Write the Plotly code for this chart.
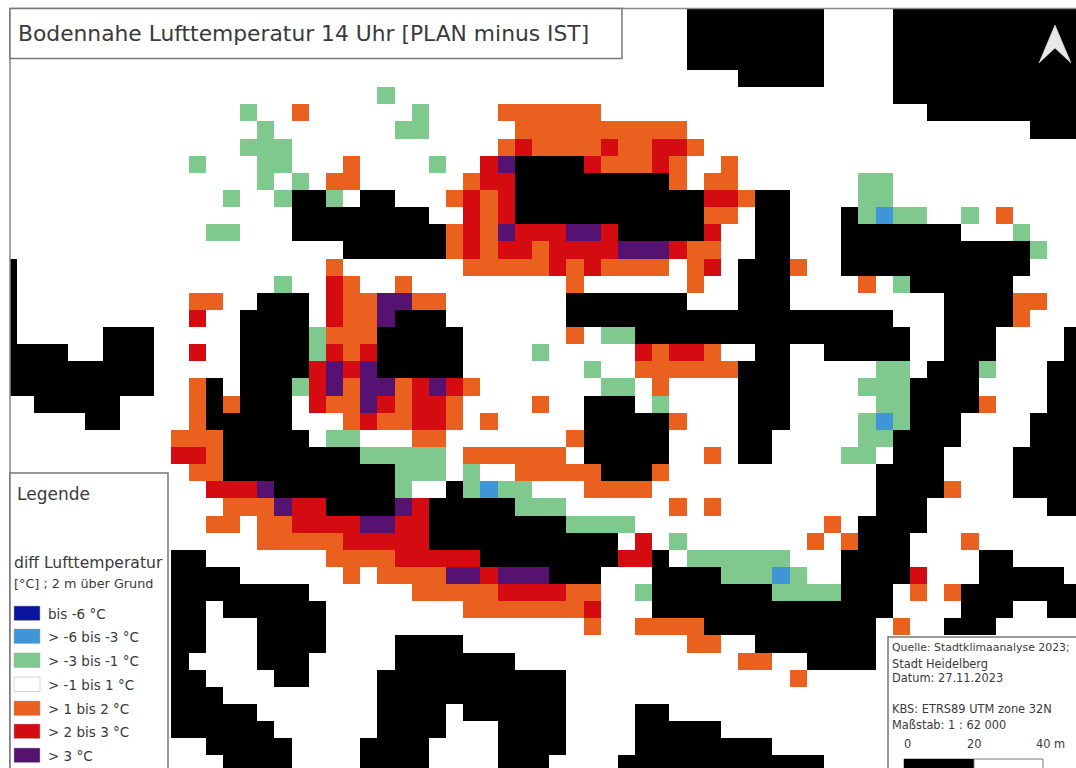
import re
import plotly.graph_objects as go

TITLE = "Bodennahe Lufttemperatur 14 Uhr [PLAN minus IST]"
LEGEND_LABELS = ["bis -6 °C", "> -6 bis -3 °C", "> -3 bis -1 °C", "> -1 bis 1 °C",
                 "> 1 bis 2 °C", "> 2 bis 3 °C", "> 3 °C"]
LEGEND_COLOURS = ["#0b149c", "#3f95d6", "#7fc98e", "#ffffff", "#e9601f", "#d40c12", "#561270"]
INFO_LINES = ["Quelle: Stadtklimaanalyse 2023;", "Stadt Heidelberg", "Datum: 27.11.2023",
              "KBS: ETRS89 UTM zone 32N", "Maßstab: 1 : 62 000"]
SCALE_LABELS = ["0", "20", "40 m"]

# Raster classes per row: letter = class, numbers = column or column range
CLASS_CODES = {"D": 0, "B": 1, "G": 2, "W": 3, "O": 4, "R": 5, "P": 6, "K": 7}
N_COLS = 63
ROW_CELLS = [
    "K40-47 K52-62",
    "K40-47 K52-62",
    "K40-47 K52-62",
    "K40-47 K52-62",
    "K43-47 K52-62",
    "G22 K52-62",
    "G14 O17 G24 O29-34 K54-62",
    "G15 G23-24 O30-39 K60-62",
    "G14-16 O29 R30 O31-34 R35 O36-37 R38-39 O40",
    "G11 G15-16 O20 G25 R28 P29 K30-33 R34 O35-37 R38 O39 O42",
    "G15 G17 O19-20 O27 R28-29 K30-38 O39 O41-42 G50-51",
    "G13 G16 K17-18 G19 K21-22 O26 R27 O28 R29 K30-40 R41-42 O43 K44-45 G50-51",
    "K17-24 R27 O28 R29 K30-40 O41-42 K44-45 K49 G50 B51 G52-53 G56 O58",
    "G12-13 K17-25 O26 R27 O28 P29 R30-32 P33-34 R35 K36-40 R41 K44-45 K49-55 G59",
    "K20-25 O26 R27 O28 R29-30 O31 R32-35 P36-38 R39 O40-41 K44-45 K49-59 G60",
    "K0 O19 O27-31 R32 O33 R34 O35-38 O40 R41 K43-45 O46 K49-59",
    "K0 G16 R19 O20 O23 O33 O40 K43-45 O50 G52 K53-58",
    "K0 O11-12 K15-17 R19 O20-21 P22-23 O24-25 K33-39 K43-45 K55-58 O59-60",
    "K0 R11 K14-17 R19 O20-21 P22 K23-25 K33-51 K55-58 O59",
    "K0 K6-8 K14-17 G18 O19-21 K22-26 O33 G35-36 K37-52 K55-57 K62",
    "K0-3 K6-8 R11 K14-17 G18 R19 O20 R21 K22-26 G31 R37 O38 R39-40 O41 K44-45 K48-52 K55-57 K62",
    "K0-8 K14-17 R18 P19 R20 P21 K22-26 G34 O37-42 K43-45 G51-52 K54-56 G57 K61-62",
    "K0-8 O11 K12 K14-16 G17 R18 P19 O20 P21-22 O23 R24 P25 R26 O27 G35-36 O38 K43-45 G50-52 K53-56 K61-62",
    "K2-6 O11 K12 O13 K14-16 R18 O19-20 P21 R22 O23 R24-25 O26 O31 K34-36 G38 K43-45 G51-52 K53-56 O57 K61-62",
    "K5-6 O11 K12-16 O20 R21 O22-23 R24-25 O26 O28 K34-38 O39 K43-45 G50 B51 G52 K53-55 K60-62",
    "O10-12 K13-17 G19-20 O24-25 O33 K34-38 K43-44 G50-51 K52-55 K60-62",
    "R10-11 O12 K13-20 G21-25 O27-32 K34-38 O41 K43-44 G49-50 K52-54 K59-62",
    "O11-12 K13-22 G23-25 G27 O30-34 K35-37 O38 K51-54 K59-62",
    "R12-14 P15 K16-22 G23 K26 G27 B28 G29-30 O34-37 K51-54 O55 K59-62",
    "O13-15 P16 R17-18 K19-22 P23 R24 K25-29 G30-32 O39 O41 K51-53 K61-62",
    "O12-13 O15-16 R17-20 P21-22 R23-24 K25-32 G33-36 O48 K50-53",
    "O15-19 R20-24 K25-35 R37 G39 O47 O49 K50-52 O56",
    "K10-11 O19-22 R23-27 K28-35 R36-37 K38 G40-45 K49-52 K57-58",
    "K10-13 O20 O22-25 P26-27 R28 P29-31 K32-34 K38-41 G42-44 B45 G46 K49-52 R53 K57-61",
    "K10-17 O24-28 R29-32 O33-34 G37 K38-44 G45-48 K49-51 O53 O55 K56-62",
    "K10-11 K13-18 O27-33 R34 K38-51 K56-58 K61-62",
    "K10-11 K15-18 O34 O37-40 K41-50 O52 K55-57",
    "K10-11 K15-18 K23-26 O40-41 K44-50",
    "K10 K15-17 K23-29 O43-44 K47-50",
    "K10-11 K16-17 K22-32 O46",
    "K10-12 K22-32",
    "K10-14 K22-25 K27-32 K37-38",
    "K10-15 K22-25 K29-32 K37-41",
    "K12-16 K21-24 K29-32 K37-44",
    "K13-16 K21-24 K29-31 K36-47",
]

W, H, L, T = 1076, 768, 10, 9


def px(x):
    return (x - L) / (W - L)


def py(y):
    return (H - y) / (H - T)


z = []
for spec in ROW_CELLS:
    row = [CLASS_CODES["W"]] * N_COLS
    for code, a, b in re.findall(r"([A-Z])(\d+)(?:-(\d+))?", spec):
        for k in range(int(a), int(b or a) + 1):
            row[k] = CLASS_CODES[code]
    z.append(row)

palette = LEGEND_COLOURS + ["#000000"]
n = len(palette)
colorscale = []
for i, c in enumerate(palette):
    colorscale += [[i / n, c], [(i + 1) / n, c]]

fig = go.Figure(go.Heatmap(z=z, x0=0.5, dx=1, y0=0.5, dy=1, zmin=-0.5, zmax=n - 0.5,
                           colorscale=colorscale, showscale=False, hoverinfo="skip"))

shapes = []
annos = []


def rect(x0, y0, x1, y1, fill="#ffffff", line="#777777", width=1.5):
    shapes.append(dict(type="rect", xref="paper", yref="paper", x0=px(x0), x1=px(x1), y0=py(y0), y1=py(y1),
                       fillcolor=fill, line=dict(color=line, width=width)))


def text(x, y, s, size, color="#3a3a3a", anchor="left"):
    annos.append(dict(xref="paper", yref="paper", x=px(x), y=py(y), text=s, showarrow=False,
                      xanchor=anchor, yanchor="middle", font=dict(family="DejaVu Sans", size=size, color=color)))


# map frame
rect(10, 8.5, 1080, 772, fill="rgba(0,0,0,0)", line="#8a8a8a")
# title box
rect(10, 8.5, 622, 58.5)
text(16, 33, TITLE, 21.8)
# north arrow
shapes.append(dict(type="path", xref="paper", yref="paper",
                   path=f"M {px(1055)} {py(25)} L {px(1071)} {py(63)} L {px(1055)} {py(48)} L {px(1039)} {py(63)} Z",
                   fillcolor="#e8e8e8", line=dict(color="#f4f4f4", width=0.5)))
# legend box
rect(10, 473, 168, 772)
text(15, 494, "Legende", 17)
text(12, 563, "diff Lufttemperatur", 15.6)
text(12, 583, "[°C] ; 2 m über Grund", 12.8)
SWATCH_TOPS = [606, 629, 653, 677, 701, 724, 748]
for top, colour, label in zip(SWATCH_TOPS, LEGEND_COLOURS, LEGEND_LABELS):
    rect(14, top, 40, top + 14.5, fill=colour, line="#aaaaaa", width=0.5)
    text(46, top + 7.5, label, 13.5)
# info box
rect(888, 637, 1080, 772)
for y, line, size in zip([647, 663.5, 678, 709, 725], INFO_LINES, [10.9, 11.4, 11.4, 11.4, 11.4]):
    text(890, y, line, size)
for x, label in zip([907, 974.5, 1050], SCALE_LABELS):
    text(x, 744, label, 11.4, anchor="center")
rect(904, 759, 974, 772, fill="#000000", line="#000000", width=0.5)
rect(974, 759, 1043, 772, fill="#ffffff", line="#777777", width=1)

fig.update_layout(
    width=W, height=H, margin=dict(l=L, r=0, t=T, b=0), autosize=False,
    paper_bgcolor="#ffffff", plot_bgcolor="#ffffff", showlegend=False,
    xaxis=dict(range=[(L + 0.4) / 17.17, (W + 0.4) / 17.17], visible=False, fixedrange=True),
    yaxis=dict(range=[(H - 1.5) / 17.13, (T - 1.5) / 17.13], visible=False, fixedrange=True),
    shapes=shapes, annotations=annos,
)
fig.write_html("out.html", config=dict(displayModeBar=False),
               post_script="document.body.style.margin='0';document.body.style.overflow='hidden';")
